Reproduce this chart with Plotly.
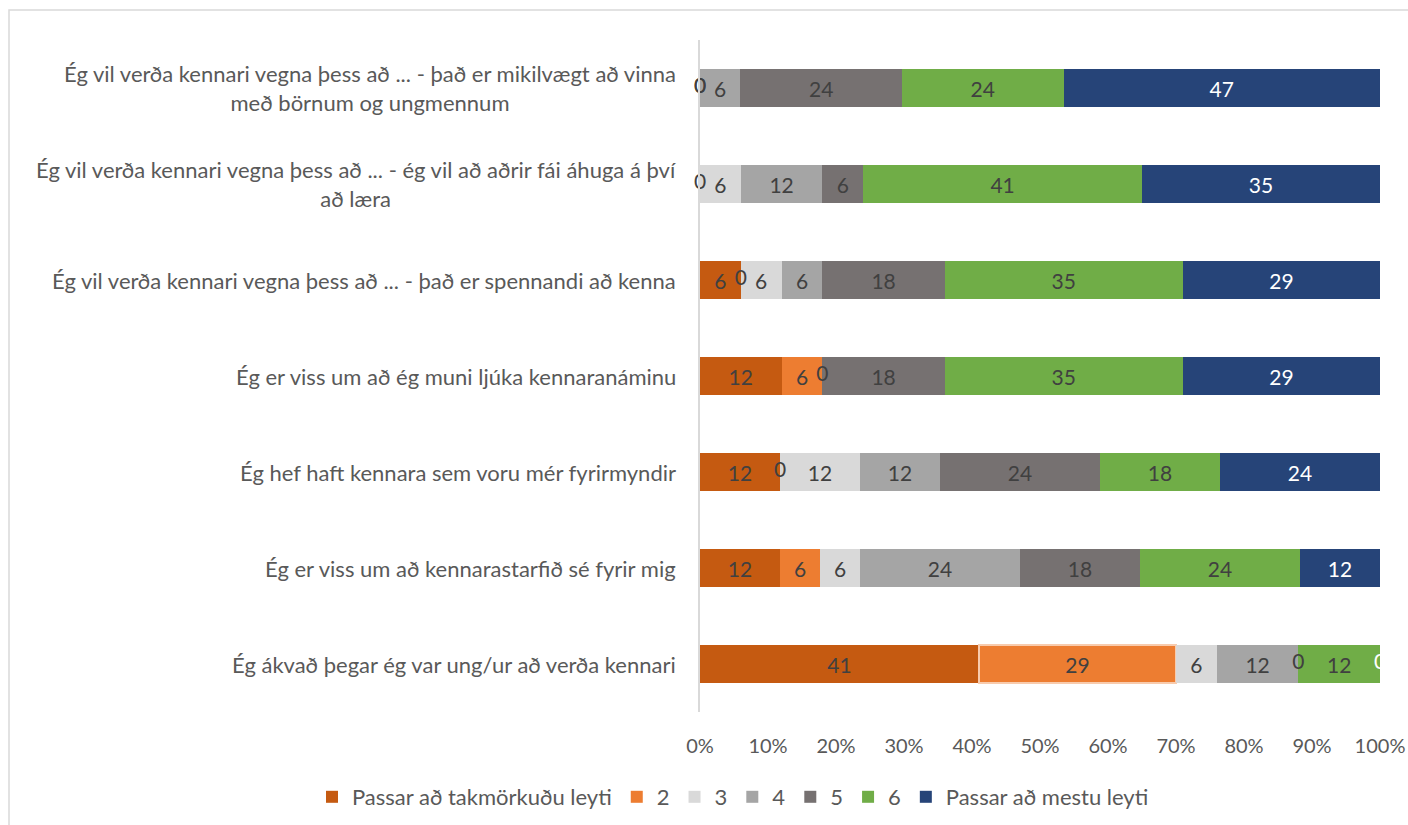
import plotly.graph_objects as go

# Survey statements (top to bottom)
categories = [
    "Ég vil verða kennari vegna þess að ... - það er mikilvægt að vinna<br>með börnum og ungmennum",
    "Ég vil verða kennari vegna þess að ... - ég vil að aðrir fái áhuga á því<br>að læra",
    "Ég vil verða kennari vegna þess að ... - það er spennandi að kenna",
    "Ég er viss um að ég muni ljúka kennaranáminu",
    "Ég hef haft kennara sem voru mér fyrirmyndir",
    "Ég er viss um að kennarastarfið sé fyrir mig",
    "Ég ákvað þegar ég var ung/ur að verða kennari",
]

series_names = ["Passar að takmörkuðu leyti", "2", "3", "4", "5", "6", "Passar að mestu leyti"]

# Percentages per answer level (None = no answer in that level)
s1 = [None, None, 6, 12, 12, 12, 41]
s2 = [0, 0, 0, 6, 0, 6, 29]
s3 = [0, 6, 6, 0, 12, 6, 6]
s4 = [6, 12, 6, None, 12, 24, 12]
s5 = [24, 6, 18, 18, 24, 18, 0]
s6 = [24, 41, 35, 35, 18, 24, 12]
s7 = [47, 35, 29, 29, 24, 12, 0]
series_values = [s1, s2, s3, s4, s5, s6, s7]

x_ticks = list(range(0, 101, 10))
x_tick_labels = [f"{t}%" for t in x_ticks]

colors = ["#C55A11", "#ED7D31", "#D9D9D9", "#A5A5A5", "#767171", "#70AD47", "#264478"]
label_colors = ["#404040"] * 6 + ["#FFFFFF"]

FONT = "Lato"
TXT = "#595959"

fig = go.Figure()

for k, (name, vals) in enumerate(zip(series_names, series_values)):
    line_col = [colors[k]] * len(vals)
    line_w = [0] * len(vals)
    if k == 1:
        # highlighted segment outline on the last statement
        line_col[-1] = "#F8CBAD"
        line_w[-1] = 2
    fig.add_trace(go.Bar(
        name=name,
        y=categories,
        x=vals,
        orientation="h",
        marker=dict(color=colors[k], line=dict(color=line_col, width=line_w)),
        text=["" if v is None else str(v) for v in vals],
        texttemplate="%{text}",
        textposition="inside",
        insidetextanchor="middle",
        constraintext="none",
        textangle=0,
        textfont=dict(family=FONT, size=21, color=label_colors[k]),
        hoverinfo="skip",
    ))

# Labels for zero-valued segments sit on the segment boundary
zx, zy, zc = [], [], []
for i, cat in enumerate(categories):
    row = [sv[i] for sv in series_values]
    total = sum(v for v in row if v is not None)
    cum = 0
    for k, v in enumerate(row):
        if v is None:
            continue
        if v == 0:
            zx.append(cum / total * 100)
            zy.append(cat)
            zc.append(label_colors[k])
        cum += v

fig.add_trace(go.Scatter(
    x=zx, y=zy, mode="text", text=["0"] * len(zx),
    textfont=dict(family=FONT, size=21, color=zc),
    showlegend=False, hoverinfo="skip", cliponaxis=False,
))

# Statement labels, centred line by line, left of the axis
for cat in categories:
    fig.add_annotation(
        x=0, xref="paper", y=cat, yref="y",
        text=cat, showarrow=False, xanchor="right", xshift=-22,
        align="center", font=dict(family=FONT, size=22, color=TXT),
    )

W, H = 1408, 825
L, R, T, B = 700, 28, 40, 113
PW, PH = W - L - R, H - T - B

# Outer chart frame
fig.add_shape(
    type="rect", xref="paper", yref="paper",
    x0=(9 - L) / PW, x1=(W + 20 - L) / PW,
    y0=(H - B - (H + 20)) / PH, y1=(H - B - 10) / PH,
    line=dict(color="#D9D9D9", width=1.5), fillcolor="rgba(0,0,0,0)",
)

fig.update_layout(
    width=W, height=H,
    margin=dict(l=L, r=R, t=T, b=B, autoexpand=False),
    barmode="stack", barnorm="percent", bargap=0.604,
    plot_bgcolor="white", paper_bgcolor="white",
    font=dict(family=FONT, color=TXT, size=21),
    xaxis=dict(
        range=[0, 100], tickmode="array", tickvals=x_ticks, ticktext=x_tick_labels,
        showgrid=False, zeroline=False, showline=False,
        tickfont=dict(family=FONT, size=20, color=TXT),
        ticklabelstandoff=20, fixedrange=True,
    ),
    yaxis=dict(
        autorange="reversed", showticklabels=False, showgrid=False,
        showline=True, linecolor="#D9D9D9", linewidth=2, zeroline=False,
        ticks="", fixedrange=True,
    ),
    legend=dict(
        orientation="h", x=(312 - L) / PW, xanchor="left",
        y=-(797 - (H - B)) / PH, yanchor="middle",
        font=dict(family=FONT, size=22, color=TXT), traceorder="normal",
        itemwidth=30,
    ),
)

fig.write_html("out.html")
